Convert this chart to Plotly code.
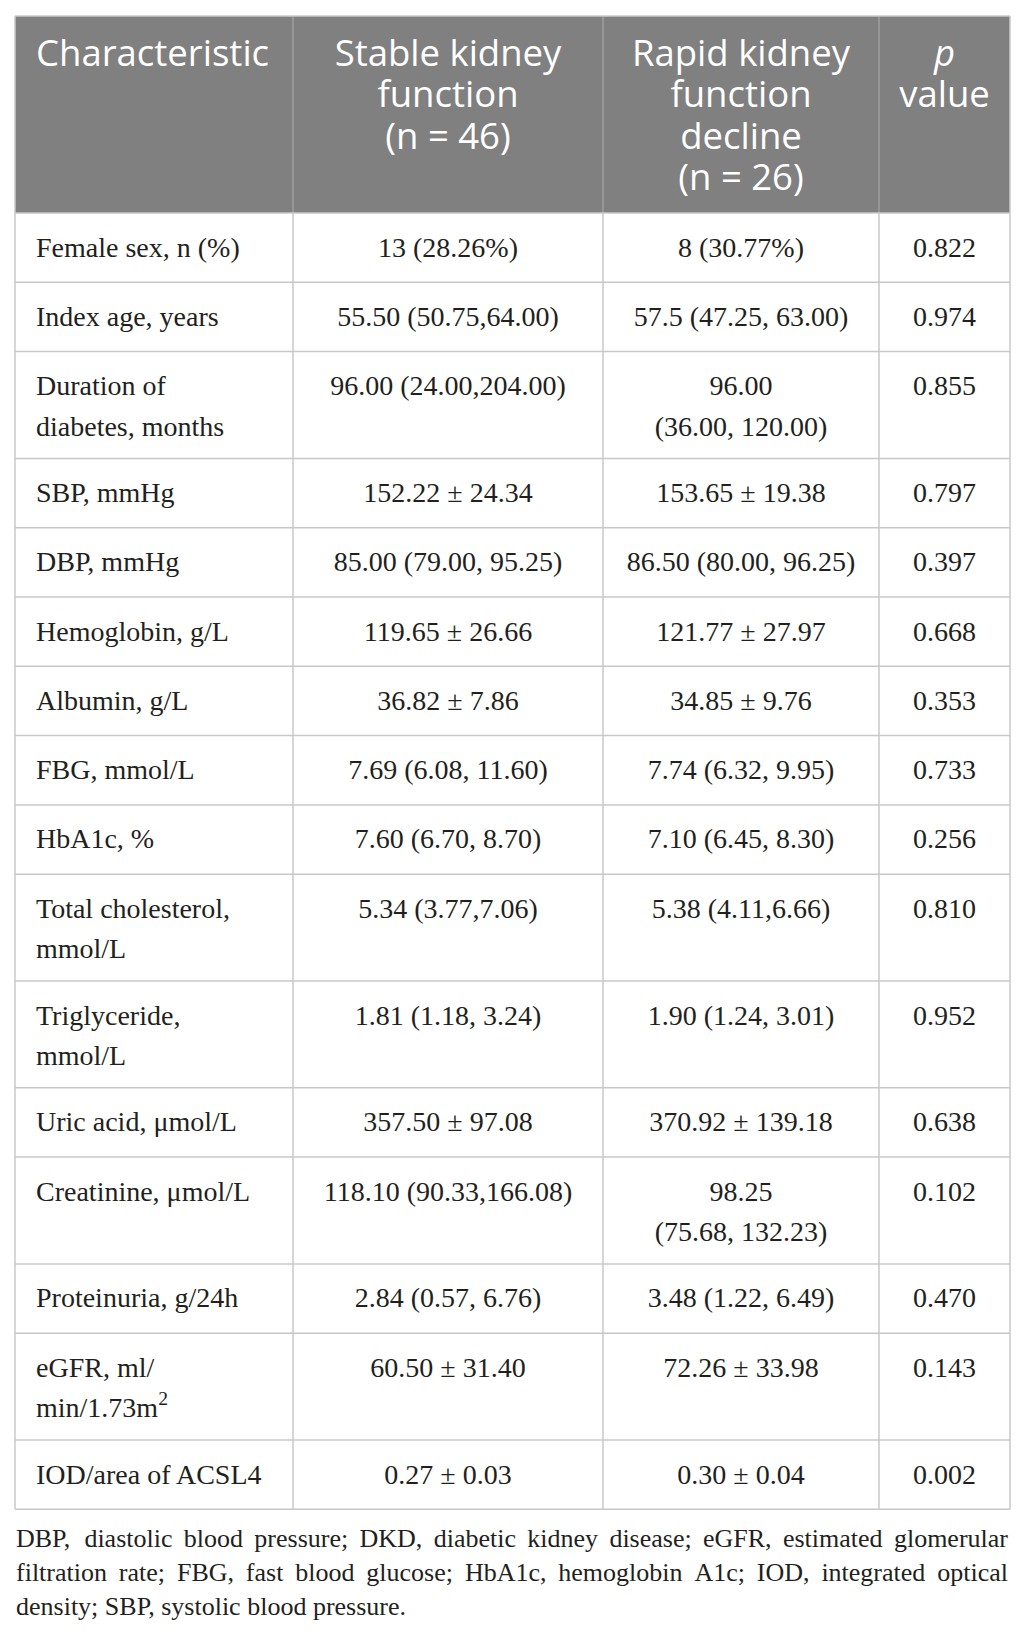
import plotly.graph_objects as go

# --- Tabelleninhalt ---
header = ["Characteristic",
          "Stable kidney<br>function<br>(n = 46)",
          "Rapid kidney<br>function<br>decline<br>(n = 26)",
          "<i>p</i><br>value"]

characteristic = ["Female sex, n (%)", "Index age, years", "Duration of<br>diabetes, months",
                  "SBP, mmHg", "DBP, mmHg", "Hemoglobin, g/L", "Albumin, g/L", "FBG, mmol/L",
                  "HbA1c, %", "Total cholesterol,<br>mmol/L", "Triglyceride,<br>mmol/L",
                  "Uric acid, μmol/L", "Creatinine, μmol/L", "Proteinuria, g/24h",
                  "eGFR, ml/<br>min/1.73m<sup>2</sup>", "IOD/area of ACSL4"]
stable = ["13 (28.26%)", "55.50 (50.75,64.00)", "96.00 (24.00,204.00)", "152.22 ± 24.34",
          "85.00 (79.00, 95.25)", "119.65 ± 26.66", "36.82 ± 7.86", "7.69 (6.08, 11.60)",
          "7.60 (6.70, 8.70)", "5.34 (3.77,7.06)", "1.81 (1.18, 3.24)", "357.50 ± 97.08",
          "118.10 (90.33,166.08)", "2.84 (0.57, 6.76)", "60.50 ± 31.40", "0.27 ± 0.03"]
rapid = ["8 (30.77%)", "57.5 (47.25, 63.00)", "96.00<br>(36.00, 120.00)", "153.65 ± 19.38",
         "86.50 (80.00, 96.25)", "121.77 ± 27.97", "34.85 ± 9.76", "7.74 (6.32, 9.95)",
         "7.10 (6.45, 8.30)", "5.38 (4.11,6.66)", "1.90 (1.24, 3.01)", "370.92 ± 139.18",
         "98.25<br>(75.68, 132.23)", "3.48 (1.22, 6.49)", "72.26 ± 33.98", "0.30 ± 0.04"]
p_value = ["0.822", "0.974", "0.855", "0.797", "0.397", "0.668", "0.353", "0.733",
           "0.256", "0.810", "0.952", "0.638", "0.102", "0.470", "0.143", "0.002"]

footnote_lines = [
    "DBP, diastolic blood pressure; DKD, diabetic kidney disease; eGFR, estimated glomerular",
    "filtration rate; FBG, fast blood glucose; HbA1c, hemoglobin A1c; IOD, integrated optical",
    "density; SBP, systolic blood pressure.",
]

# --- Geometrie (Seitenpixel) ---
W, H = 1026, 1638
PAGE_MARGIN = 8          # Standard-Rand des <body> im Browser
col_edges = [15, 293, 603, 879, 1010]
header_top, header_bottom = 16, 213
row_h1, row_extra = 69.3, 37.5
line_off, line_step = 36.5, 40.5
head_off, head_step = 40.5, 41.5
pad_left = 21
foot_y0, foot_step = 1540, 34
foot_left, foot_right = 16, 1008

SERIF = "Liberation Serif, Times New Roman, serif"
SANS = "Open Sans, Noto Sans, sans-serif"
BODY_SIZE, HEAD_SIZE, FOOT_SIZE = 28, 36.5, 26
TEXT_COLOR = "#231f20"
GRID = "#c8c8c8"

# Times-Metriken (Liberation Serif ist metrisch kompatibel), fuer Blocksatz
_w = {}
for chars, w in [(" ,.", 250), ("()-fIrt", 333), ("/:;ijl", 278), ("0123456789bdghnopquvxy", 500),
                 ("acez?", 444), ("s", 389), ("m", 778), ("w", 722), ("%", 833),
                 ("ADGHKNOQUVXY", 722), ("BCR", 667), ("ELTZ", 611), ("FPS", 556), ("J", 389),
                 ("M", 889), ("W", 944)]:
    for ch in chars:
        _w.setdefault(ch, w)
_w["t"] = 278


def text_width(s, size):
    return sum(_w.get(ch, 500) for ch in s) * size / 1000.0


rows = list(zip(characteristic, stable, rapid, p_value))
n_lines = [max(c.count("<br>") + 1 for c in r) for r in rows]
tops = [header_bottom]
for n in n_lines:
    tops.append(tops[-1] + row_h1 + row_extra * (n - 1))
table_bottom = tops[-1]

centers = [(col_edges[i] + col_edges[i + 1]) / 2 for i in range(4)]
x_anchor = [col_edges[0] + pad_left] + centers[1:]

fig = go.Figure()

# Kopfzeile
for ci, label in enumerate(header):
    parts = label.split("<br>")
    fig.add_trace(go.Scatter(
        x=[x_anchor[ci]] * len(parts),
        y=[header_top + head_off + k * head_step for k in range(len(parts))],
        text=parts, mode="text",
        textposition="middle right" if ci == 0 else "middle center",
        textfont=dict(family=SANS, size=HEAD_SIZE, color="white"),
        hoverinfo="skip", showlegend=False,
    ))

# Datenzeilen
for ci in range(4):
    xs, ys, ts = [], [], []
    for ri, r in enumerate(rows):
        for k, part in enumerate(r[ci].split("<br>")):
            xs.append(x_anchor[ci])
            ys.append(tops[ri] + line_off + k * line_step)
            ts.append(part)
    fig.add_trace(go.Scatter(
        x=xs, y=ys, text=ts, mode="text",
        textposition="middle right" if ci == 0 else "middle center",
        textfont=dict(family=SERIF, size=BODY_SIZE, color=TEXT_COLOR),
        hoverinfo="skip", showlegend=False,
    ))

# Fussnote im Blocksatz (letzte Zeile linksbuendig)
fx, fy, ft = [], [], []
for li, line in enumerate(footnote_lines):
    y = foot_y0 + li * foot_step
    words = line.split(" ")
    if li == len(footnote_lines) - 1:
        fx.append(foot_left); fy.append(y); ft.append(line)
        continue
    widths = [text_width(wd, FOOT_SIZE) for wd in words]
    gap = (foot_right - foot_left - sum(widths)) / (len(words) - 1)
    x = foot_left
    for wd, wdt in zip(words, widths):
        fx.append(x); fy.append(y); ft.append(wd)
        x += wdt + gap
fig.add_trace(go.Scatter(
    x=fx, y=fy, text=ft, mode="text", textposition="middle right",
    textfont=dict(family=SERIF, size=FOOT_SIZE, color=TEXT_COLOR),
    hoverinfo="skip", showlegend=False,
))

# Rahmen und Hintergrund
shapes = [dict(type="rect", x0=col_edges[0], x1=col_edges[-1], y0=header_top, y1=header_bottom,
               fillcolor="#808080", line=dict(width=0), layer="below")]
for xe in col_edges[1:-1]:
    shapes.append(dict(type="line", x0=xe, x1=xe, y0=header_top, y1=header_bottom,
                       line=dict(color="#a5a5a5", width=1.2), layer="below"))
for ye in tops:
    shapes.append(dict(type="line", x0=col_edges[0], x1=col_edges[-1], y0=ye, y1=ye,
                       line=dict(color=GRID, width=1.5), layer="below"))
for xe in col_edges:
    shapes.append(dict(type="line", x0=xe, x1=xe, y0=header_bottom, y1=table_bottom,
                       line=dict(color=GRID, width=1.5), layer="below"))
shapes.append(dict(type="line", x0=col_edges[0], x1=col_edges[-1], y0=header_top, y1=header_top,
                   line=dict(color=GRID, width=1.5), layer="below"))
for xe in (col_edges[0], col_edges[-1]):
    shapes.append(dict(type="line", x0=xe, x1=xe, y0=header_top, y1=header_bottom,
                       line=dict(color=GRID, width=1.5), layer="below"))

# Figur um den Body-Rand verkleinert, Achsen in Seitenpixeln
fig.update_layout(
    width=W - PAGE_MARGIN, height=H - 2 * PAGE_MARGIN,
    margin=dict(l=0, r=0, t=0, b=0),
    paper_bgcolor="white", plot_bgcolor="white",
    xaxis=dict(range=[PAGE_MARGIN, W], visible=False, fixedrange=True),
    yaxis=dict(range=[H - PAGE_MARGIN, PAGE_MARGIN], visible=False, fixedrange=True),
    shapes=shapes,
    showlegend=False,
)

fig.write_html("out.html")
